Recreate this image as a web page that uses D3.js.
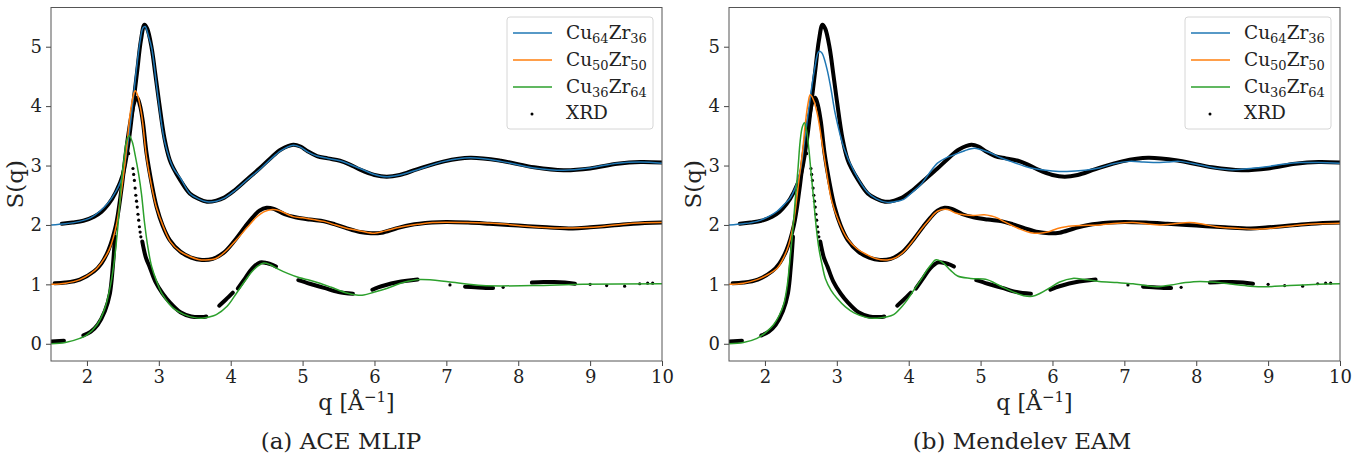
<!DOCTYPE html>
<html>
<head>
<meta charset="utf-8">
<script src="https://cdn.jsdelivr.net/npm/d3@7"></script>
<style>
  body { margin: 0; background: #fff; }
  svg text { font-family: "DejaVu Serif", serif; fill: #222; }
</style>
</head>
<body>
<svg id="fig" width="1366" height="465"></svg>
<script>
// ticks
const qTicks = [2, 3, 4, 5, 6, 7, 8, 9, 10];
const sTicks = [0, 1, 2, 3, 4, 5];

// legend labels [base, sub, base, sub]
const alloys = [["Cu", "64", "Zr", "36"], ["Cu", "50", "Zr", "50"], ["Cu", "36", "Zr", "64"]];
const alloyColors = ["#1f77b4", "#ff7f0e", "#2ca02c"];
const captions = ["(a) ACE MLIP", "(b) Mendelev EAM"];

// XRD experiment (offsets +2, +1, 0 already included), [q, S]
const xrdCu64 = [[1.65,2.02],[1.8,2.04],[1.95,2.07],[2.1,2.14],[2.2,2.22],[2.3,2.35],[2.4,2.55],[2.5,2.85],[2.58,3.4],[2.65,4.1],[2.7,4.6],[2.75,5.1],[2.8,5.37],[2.84,5.3],[2.9,4.98],[2.95,4.55],[3.0,4.1],[3.08,3.45],[3.15,3.1],[3.2,2.96],[3.3,2.75],[3.43,2.53],[3.55,2.44],[3.67,2.39],[3.8,2.41],[3.91,2.46],[4.05,2.58],[4.23,2.77],[4.4,2.95],[4.55,3.12],[4.7,3.27],[4.87,3.35],[4.97,3.32],[5.07,3.24],[5.2,3.16],[5.35,3.12],[5.52,3.08],[5.65,3.02],[5.8,2.93],[6.0,2.84],[6.17,2.81],[6.35,2.84],[6.6,2.94],[6.97,3.07],[7.33,3.13],[7.76,3.08],[8.22,2.97],[8.63,2.92],[9.0,2.95],[9.38,3.03],[9.7,3.06],[10.0,3.05]];
const xrdCu50 = [[1.55,1.02],[1.7,1.03],[1.9,1.08],[2.1,1.22],[2.2,1.35],[2.3,1.58],[2.4,1.98],[2.48,2.6],[2.55,3.3],[2.62,3.85],[2.67,4.1],[2.7,4.14],[2.74,4.0],[2.78,3.72],[2.83,3.2],[2.9,2.7],[2.97,2.3],[3.05,2.0],[3.15,1.75],[3.3,1.55],[3.45,1.45],[3.6,1.41],[3.75,1.43],[3.9,1.53],[4.05,1.73],[4.2,1.97],[4.3,2.12],[4.4,2.24],[4.5,2.29],[4.6,2.27],[4.75,2.18],[4.9,2.13],[5.1,2.09],[5.3,2.06],[5.45,2.01],[5.6,1.95],[5.8,1.88],[5.95,1.86],[6.1,1.87],[6.3,1.94],[6.5,2.0],[6.8,2.04],[7.0,2.05],[7.3,2.04],[7.6,2.02],[8.0,1.99],[8.4,1.96],[8.76,1.94],[9.0,1.96],[9.3,1.99],[9.6,2.02],[10.0,2.04]];
const xrdCu36Segments = [
  [[1.5,0.04],[1.68,0.05]],
  [[1.95,0.14],[2.05,0.2],[2.15,0.32],[2.25,0.55],[2.32,0.85],[2.36,1.3],[2.39,1.8]],
  [[2.77,1.72],[2.82,1.45],[2.87,1.3],[2.95,1.05],[3.05,0.85],[3.15,0.7],[3.3,0.53],[3.45,0.46],[3.6,0.45],[3.66,0.46]],
  [[3.84,0.64],[3.93,0.74],[4.03,0.86]],
  [[4.1,0.93],[4.2,1.1],[4.3,1.27],[4.41,1.37],[4.5,1.36],[4.58,1.33],[4.63,1.3]],
  [[4.94,1.07],[5.1,1.01],[5.3,0.94],[5.5,0.87],[5.7,0.84]],
  [[5.97,0.91],[6.05,0.95],[6.16,0.99],[6.3,1.03],[6.45,1.06],[6.6,1.08]],
  [[7.26,0.96],[7.4,0.95],[7.55,0.94],[7.65,0.94]],
  [[8.19,1.03],[8.35,1.04],[8.5,1.04],[8.65,1.03],[8.79,1.01]]
];
const xrdCu36Dots = [[2.55,3.15],[2.57,3.22],[2.58,3.2],[2.64,2.95],[2.65,2.85],[2.66,2.75],[2.67,2.62],[2.68,2.5],[2.69,2.4],[2.7,2.3],[2.71,2.18],[2.72,2.08],[2.73,1.97],[2.74,1.88],[2.75,1.8],[7.05,0.99],[7.79,0.95],[9.0,1.0],[9.23,0.98],[9.48,0.97],[9.69,1.01],[9.8,1.02],[9.87,1.02]];

// ACE MLIP simulations
const aceCu64 = [[1.5,2.0],[1.7,2.02],[1.9,2.06],[2.05,2.12],[2.18,2.23],[2.3,2.38],[2.36,2.48],[2.44,2.65],[2.5,2.85],[2.56,3.3],[2.62,3.86],[2.69,4.64],[2.74,5.1],[2.78,5.32],[2.81,5.34],[2.85,5.2],[2.9,4.98],[2.99,4.14],[3.08,3.41],[3.2,2.96],[3.3,2.79],[3.43,2.53],[3.55,2.44],[3.67,2.39],[3.8,2.4],[3.91,2.45],[4.05,2.57],[4.23,2.76],[4.4,2.93],[4.55,3.1],[4.7,3.25],[4.87,3.34],[4.97,3.31],[5.07,3.23],[5.2,3.16],[5.35,3.12],[5.52,3.08],[5.8,2.95],[6.0,2.85],[6.17,2.81],[6.35,2.84],[6.6,2.93],[6.97,3.07],[7.33,3.13],[7.76,3.07],[8.22,2.96],[8.63,2.92],[9.0,2.96],[9.38,3.04],[9.7,3.06],[10,3.04]];
const aceCu50 = [[1.5,1.0],[1.7,1.02],[1.9,1.08],[2.05,1.18],[2.14,1.27],[2.25,1.45],[2.32,1.61],[2.41,2.0],[2.46,2.4],[2.51,2.85],[2.56,3.4],[2.6,3.86],[2.64,4.15],[2.67,4.26],[2.7,4.2],[2.76,3.86],[2.83,3.13],[2.9,2.65],[2.97,2.28],[3.06,1.98],[3.16,1.72],[3.3,1.55],[3.43,1.47],[3.55,1.42],[3.65,1.41],[3.8,1.44],[3.94,1.57],[4.08,1.75],[4.23,1.96],[4.35,2.12],[4.46,2.22],[4.58,2.26],[4.68,2.24],[4.87,2.14],[5.0,2.12],[5.15,2.09],[5.3,2.06],[5.43,2.01],[5.6,1.95],[5.8,1.9],[6.0,1.86],[6.15,1.9],[6.35,1.96],[6.6,2.01],[6.81,2.04],[7.28,2.04],[7.74,2.02],[8.2,1.97],[8.5,1.95],[8.76,1.95],[9.13,1.97],[9.6,2.03],[10,2.04]];
const aceCu36 = [[1.5,0.0],[1.7,0.02],[1.9,0.09],[2.0,0.15],[2.14,0.32],[2.25,0.6],[2.32,0.94],[2.37,1.3],[2.41,1.72],[2.45,2.25],[2.48,2.73],[2.52,3.15],[2.55,3.41],[2.59,3.5],[2.63,3.4],[2.67,3.18],[2.72,2.85],[2.76,2.51],[2.8,2.05],[2.85,1.61],[2.9,1.3],[2.97,1.05],[3.05,0.83],[3.2,0.6],[3.34,0.5],[3.5,0.44],[3.6,0.43],[3.7,0.45],[3.8,0.49],[3.95,0.63],[4.08,0.85],[4.2,1.06],[4.3,1.22],[4.38,1.31],[4.46,1.36],[4.55,1.33],[4.64,1.27],[4.8,1.18],[4.96,1.11],[5.1,1.07],[5.24,1.02],[5.4,0.95],[5.6,0.86],[5.75,0.82],[5.85,0.82],[6.0,0.87],[6.17,0.93],[6.4,1.03],[6.63,1.08],[7.05,1.04],[7.5,0.98],[8.2,0.98],[8.9,1.0],[10,1.01]];

// Mendelev EAM simulations
const eamCu64 = [[1.5,2.0],[1.7,2.02],[1.89,2.06],[2.05,2.14],[2.17,2.23],[2.28,2.36],[2.35,2.45],[2.42,2.62],[2.49,2.9],[2.56,3.5],[2.63,4.14],[2.69,4.62],[2.75,4.92],[2.79,4.9],[2.86,4.64],[2.92,4.28],[2.98,3.86],[3.1,3.29],[3.24,2.9],[3.42,2.56],[3.55,2.44],[3.7,2.38],[3.8,2.39],[3.93,2.43],[4.05,2.55],[4.17,2.68],[4.28,2.86],[4.4,3.04],[4.52,3.13],[4.63,3.18],[4.78,3.25],[4.91,3.29],[5.0,3.27],[5.14,3.21],[5.28,3.13],[5.42,3.07],[5.7,2.96],[6.0,2.91],[6.2,2.9],[6.45,2.92],[6.65,2.96],[6.85,3.03],[7.07,3.07],[7.27,3.06],[7.45,3.05],[7.6,3.06],[7.77,3.07],[8.05,3.01],[8.3,2.95],[8.5,2.93],[8.75,2.95],[8.98,2.98],[9.2,3.02],[9.44,3.05],[9.7,3.05],[10,3.04]];
const eamCu50 = [[1.5,1.0],[1.7,1.02],[1.89,1.08],[2.05,1.17],[2.17,1.27],[2.26,1.45],[2.33,1.66],[2.4,2.05],[2.47,2.73],[2.52,3.2],[2.56,3.69],[2.6,4.05],[2.63,4.19],[2.67,4.12],[2.73,3.86],[2.82,3.18],[2.93,2.4],[3.03,2.05],[3.14,1.78],[3.28,1.6],[3.42,1.5],[3.55,1.43],[3.7,1.41],[3.82,1.45],[3.93,1.55],[4.05,1.72],[4.17,1.92],[4.28,2.08],[4.4,2.23],[4.54,2.26],[4.65,2.2],[4.77,2.17],[4.9,2.16],[5.05,2.17],[5.15,2.15],[5.23,2.12],[5.32,2.06],[5.42,2.0],[5.55,1.93],[5.7,1.87],[5.82,1.86],[5.93,1.88],[6.07,1.94],[6.19,1.97],[6.4,1.99],[6.65,2.0],[6.9,2.03],[7.12,2.04],[7.3,2.02],[7.49,2.0],[7.7,2.02],[7.91,2.04],[8.1,2.01],[8.28,1.97],[8.6,1.94],[8.89,1.93],[9.15,1.96],[9.44,2.0],[9.7,2.02],[10,2.03]];
const eamCu36 = [[1.5,0.0],[1.7,0.02],[1.89,0.09],[2.0,0.18],[2.12,0.32],[2.2,0.48],[2.26,0.66],[2.31,0.98],[2.35,1.44],[2.39,1.95],[2.42,2.4],[2.46,2.95],[2.49,3.41],[2.52,3.65],[2.55,3.72],[2.58,3.58],[2.61,3.29],[2.64,2.9],[2.68,2.4],[2.71,2.0],[2.75,1.61],[2.8,1.3],[2.84,1.1],[2.92,0.9],[3.0,0.77],[3.12,0.62],[3.24,0.52],[3.42,0.44],[3.56,0.43],[3.68,0.45],[3.79,0.49],[3.93,0.66],[4.07,0.9],[4.17,1.08],[4.26,1.25],[4.33,1.36],[4.37,1.41],[4.43,1.4],[4.49,1.35],[4.58,1.24],[4.68,1.14],[4.86,1.1],[5.09,1.08],[5.2,1.02],[5.33,0.94],[5.46,0.87],[5.6,0.81],[5.72,0.8],[5.83,0.85],[5.96,0.94],[6.1,1.04],[6.28,1.1],[6.45,1.08],[6.65,1.05],[6.9,1.03],[7.12,1.01],[7.3,0.98],[7.45,0.96],[7.65,0.99],[7.85,1.03],[8.05,1.05],[8.3,1.03],[8.51,1.0],[8.75,0.97],[8.97,0.96],[9.3,0.98],[9.7,1.0],[10,1.01]];

const panels = [
  { left: 51, right: 662, caption: captions[0], sims: [aceCu64, aceCu50, aceCu36], center: 341 },
  { left: 729, right: 1340, caption: captions[1], sims: [eamCu64, eamCu50, eamCu36], center: 1022 }
];
const plotTop = 7.5, plotBottom = 361;

const svg = d3.select("#fig");

panels.forEach((p, pi) => {
  const x = d3.scaleLinear().domain([1.5, 10]).range([p.left, p.right]);
  const y = d3.scaleLinear().domain([-0.29, 5.66]).range([plotBottom, plotTop]);
  const g = svg.append("g");

  const clipId = "clip" + pi;
  g.append("clipPath").attr("id", clipId)
    .append("rect").attr("x", p.left).attr("y", plotTop)
    .attr("width", p.right - p.left).attr("height", plotBottom - plotTop);

  const line = d3.line().x(d => x(d[0])).y(d => y(d[1])).curve(d3.curveCatmullRom.alpha(0.5));
  const plot = g.append("g").attr("clip-path", `url(#${clipId})`);

  // XRD as dense black band
  [xrdCu64, xrdCu50].concat(xrdCu36Segments).forEach(seg => {
    plot.append("path").attr("d", line(seg))
      .attr("fill", "none").attr("stroke", "#000").attr("stroke-width", 4)
      .attr("stroke-linecap", "round").attr("stroke-linejoin", "round");
  });
  plot.selectAll("circle.xrd").data(xrdCu36Dots).enter().append("circle")
    .attr("class", "xrd").attr("cx", d => x(d[0])).attr("cy", d => y(d[1]))
    .attr("r", 1.6).attr("fill", "#000");

  // simulations
  p.sims.forEach((s, i) => {
    plot.append("path").attr("d", line(s))
      .attr("fill", "none").attr("stroke", alloyColors[i]).attr("stroke-width", 1.5);
  });

  // axes
  const xAxis = g.append("g").attr("transform", `translate(0,${plotBottom})`)
    .call(d3.axisBottom(x).tickValues(qTicks).tickSize(5).tickPadding(4).tickFormat(d3.format("d")));
  const yAxis = g.append("g").attr("transform", `translate(${p.left},0)`)
    .call(d3.axisLeft(y).tickValues(sTicks).tickSize(5).tickPadding(4).tickFormat(d3.format("d")));
  [xAxis, yAxis].forEach(a => {
    a.select(".domain").remove();
    a.selectAll("line").attr("stroke", "#444");
    a.selectAll("text").attr("font-size", 18).attr("font-family", "DejaVu Serif").attr("fill", "#222");
  });
  g.append("rect").attr("x", p.left).attr("y", plotTop)
    .attr("width", p.right - p.left).attr("height", plotBottom - plotTop)
    .attr("fill", "none").attr("stroke", "#555").attr("stroke-width", 1);

  // axis labels
  const xl = g.append("text").attr("x", (p.left + p.right) / 2).attr("y", 410)
    .attr("text-anchor", "middle").attr("font-size", 22);
  xl.append("tspan").text("q [Å");
  xl.append("tspan").attr("dy", -8).attr("font-size", 15).text("−1");
  xl.append("tspan").attr("dy", 8).text("]");
  g.append("text").attr("transform", `translate(${p.left - 28},${(plotTop + plotBottom) / 2}) rotate(-90)`)
    .attr("text-anchor", "middle").attr("font-size", 23).text("S(q)");

  // caption
  g.append("text").attr("x", p.center).attr("y", 449).attr("text-anchor", "middle")
    .attr("font-size", 23).attr("font-family", "DejaVu Serif").text(p.caption);

  // legend
  const lx = p.right - 155, ly = 17;
  const lg = g.append("g");
  lg.append("rect").attr("x", lx).attr("y", ly).attr("width", 146).attr("height", 112)
    .attr("rx", 3).attr("fill", "#fff").attr("fill-opacity", 0.8)
    .attr("stroke", "#d6d6d6").attr("stroke-width", 1);
  const rowY = [33, 60, 87, 113];
  alloys.forEach((a, i) => {
    lg.append("line").attr("x1", lx + 6).attr("x2", lx + 45)
      .attr("y1", rowY[i]).attr("y2", rowY[i])
      .attr("stroke", alloyColors[i]).attr("stroke-width", 1.5);
    const t = lg.append("text").attr("x", lx + 59).attr("y", rowY[i] + 6).attr("font-size", 18.5);
    t.append("tspan").text(a[0]);
    t.append("tspan").attr("dy", 4).attr("font-size", 13).text(a[1]);
    t.append("tspan").attr("dy", -4).text(a[2]);
    t.append("tspan").attr("dy", 4).attr("font-size", 13).text(a[3]);
  });
  lg.append("circle").attr("cx", lx + 25).attr("cy", rowY[3] + 1).attr("r", 1.5).attr("fill", "#000");
  lg.append("text").attr("x", lx + 59).attr("y", rowY[3] + 6).attr("font-size", 18.5).text("XRD");
});
</script>
</body>
</html>
